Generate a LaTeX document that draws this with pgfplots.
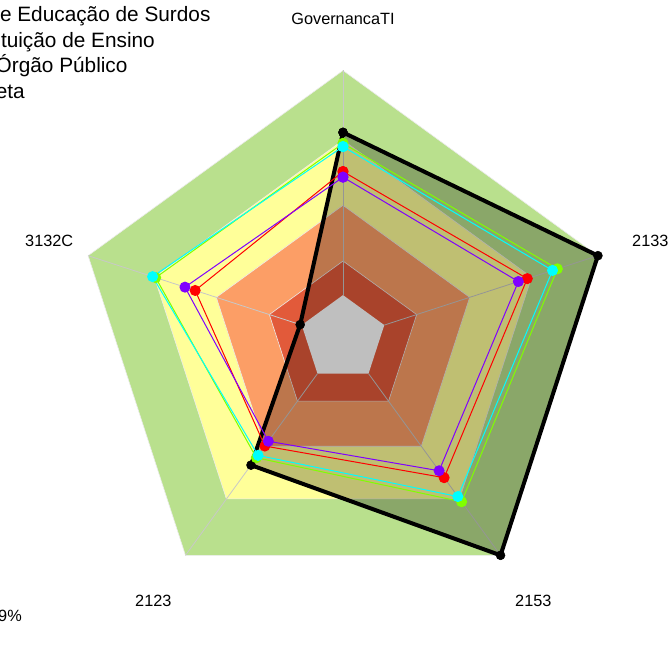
\documentclass[border=0pt]{standalone}
\usepackage{pgfplots}
\pgfplotsset{compat=1.18}
\usepackage{fontspec}
\setmainfont{Liberation Sans}
\definecolor{bgreen}{RGB}{185,224,141}
\definecolor{byellow}{RGB}{255,255,153}
\definecolor{borange}{RGB}{252,158,102}
\definecolor{bred}{RGB}{226,90,58}
\definecolor{spoke}{RGB}{200,200,200}
\definecolor{slime}{RGB}{128,255,0}
\definecolor{scyan}{RGB}{0,255,255}
\definecolor{sred}{RGB}{255,0,0}
\definecolor{spurple}{RGB}{128,0,255}
\begin{document}
\begin{tikzpicture}
\useasboundingbox (0bp,0bp) rectangle (669bp,666bp);
\clip (0bp,0bp) rectangle (669bp,666bp);
\begin{axis}[at={(0bp,0bp)}, anchor=south west, scale only axis,
  width=669bp, height=666bp,
  xmin=-1.27985, xmax=1.21642, ymin=-1.22201, ymax=1.26306,
  hide axis, clip=false,
  band/.style={draw=white!85!gray, line width=0.6bp, data cs=polar, forget plot},
  ser/.style={line width=1bp, data cs=polar, mark=*, mark size=5bp, line join=round}]
% background bands
\addplot[band, fill=bgreen] coordinates {(90,1) (18,1) (-54,1) (-126,1) (162,1) (90,1)};
\addplot[band, fill=byellow] coordinates {(90,0.74) (18,0.74) (-54,0.74) (-126,0.74) (162,0.74) (90,0.74)};
\addplot[band, fill=borange] coordinates {(90,0.497) (18,0.497) (-54,0.497) (-126,0.497) (162,0.497) (90,0.497)};
\addplot[band, fill=bred] coordinates {(90,0.289) (18,0.289) (-54,0.289) (-126,0.289) (162,0.289) (90,0.289)};
\addplot[band, fill=white, draw=none] coordinates {(90,0.162) (18,0.162) (-54,0.162) (-126,0.162) (162,0.162) (90,0.162)};
% spokes
\addplot[spoke, line width=0.8bp, data cs=polar] coordinates {(90,0.162) (90,1)};
\addplot[spoke, line width=0.8bp, data cs=polar] coordinates {(18,0.162) (18,1)};
\addplot[spoke, line width=0.8bp, data cs=polar] coordinates {(-54,0.162) (-54,1)};
\addplot[spoke, line width=0.8bp, data cs=polar] coordinates {(-126,0.162) (-126,1)};
\addplot[spoke, line width=0.8bp, data cs=polar] coordinates {(162,0.162) (162,1)};
% Meta
\addplot[data cs=polar, draw=black, line width=4bp, line join=round, line cap=round,
  fill=black, fill opacity=0.25, draw opacity=1,
  mark=*, mark size=4.5bp, mark options={fill=black, fill opacity=1, draw opacity=1, line width=0.5bp}]
  coordinates {(90,0.769) (18,1.0) (-54,1.0) (-126,0.584) (162,0.168) (90,0.769)};
% series
\addplot[ser, color=slime, mark options={fill=slime}] coordinates {(90,0.728) (18,0.841) (-54,0.753) (-126,0.55) (162,0.735) (90,0.728)};
\addplot[ser, color=sred, mark options={fill=sred}] coordinates {(90,0.623) (18,0.723) (-54,0.642) (-126,0.496) (162,0.58) (90,0.623)};
\addplot[ser, color=scyan, mark options={fill=scyan}] coordinates {(90,0.716) (18,0.822) (-54,0.729) (-126,0.539) (162,0.747) (90,0.716)};
\addplot[ser, color=spurple, mark options={fill=spurple}] coordinates {(90,0.602) (18,0.688) (-54,0.61) (-126,0.474) (162,0.62) (90,0.602)};
\end{axis}
% axis labels
\begingroup
\fontsize{16.3bp}{19bp}\selectfont
\node[anchor=base, inner sep=0pt] at (343bp,641.5bp) {GovernancaTI};
\node[anchor=base west, inner sep=0pt] at (632bp,419bp) {2133};
\node[anchor=base west, inner sep=0pt] at (25bp,419bp) {3132C};
\node[anchor=base west, inner sep=0pt] at (135bp,59.3bp) {2123};
\node[anchor=base west, inner sep=0pt] at (515bp,59.3bp) {2153};
\node[anchor=base east, inner sep=0pt] at (22bp,44.4bp) {79\%};
\endgroup
% legend (cut off at the left)
\begingroup
\fontsize{20.8bp}{24bp}\selectfont
\node[anchor=base east, inner sep=0pt] at (210.7bp,644bp) {Instituto Nacional de Educação de Surdos};
\node[anchor=base east, inner sep=0pt] at (155bp,618bp) {Instituição de Ensino};
\node[anchor=base east, inner sep=0pt] at (127.7bp,593bp) {Órgão Público};
\node[anchor=base east, inner sep=0pt] at (25bp,567bp) {Meta};
\endgroup
\end{tikzpicture}
\end{document}
